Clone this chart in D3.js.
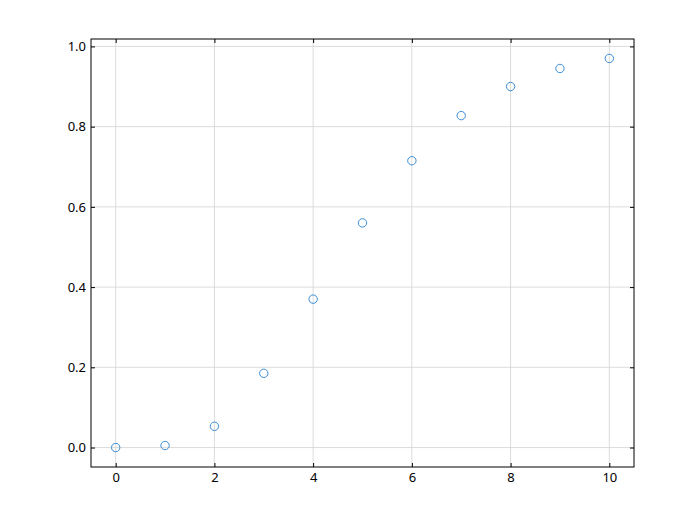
<!DOCTYPE html>
<html><head><meta charset="utf-8">
<script src="https://cdn.jsdelivr.net/npm/d3@7"></script>
<style>body{margin:0;background:#fff}</style>
</head><body>
<script>
const xValues = [0,1,2,3,4,5,6,7,8,9,10];
const yValues = [0,0.005,0.053,0.185,0.37,0.56,0.715,0.8275,0.9,0.945,0.97];
const xTicks = [0,2,4,6,8,10];
const yTicks = [0,0.2,0.4,0.6,0.8,1.0];

const W=700,H=524, L=91,R=634,T=39,B=467;
const svg=d3.select("body").append("svg").attr("width",W).attr("height",H);
const x=d3.scaleLinear().domain([-0.5,10.5]).range([L,R]);
const y=d3.scaleLinear().domain([-0.0485,1.0185]).range([B,T]);
const font="'Noto Sans', 'DejaVu Sans', sans-serif";

// grid
svg.append("g").selectAll("line").data(xTicks).join("line")
 .attr("x1",d=>x(d)).attr("x2",d=>x(d)).attr("y1",T).attr("y2",B)
 .attr("stroke","#d3d3d3").attr("stroke-width",0.8);
svg.append("g").selectAll("line").data(yTicks).join("line")
 .attr("y1",d=>y(d)).attr("y2",d=>y(d)).attr("x1",L).attr("x2",R)
 .attr("stroke","#d3d3d3").attr("stroke-width",0.8);

function styleAxis(g){
  g.select(".domain").remove();
  g.selectAll(".tick line").attr("stroke","#000").attr("stroke-width",1);
  g.selectAll(".tick text").attr("font-family",font).attr("font-size",13).attr("fill","#000");
}
svg.append("g").attr("transform",`translate(0,${B})`)
 .call(d3.axisBottom(x).tickValues(xTicks).tickSizeInner(-4).tickSizeOuter(0).tickPadding(6).tickFormat(d3.format("d")))
 .call(styleAxis);
svg.append("g").attr("transform",`translate(${L},0)`)
 .call(d3.axisLeft(y).tickValues(yTicks).tickSizeInner(-4).tickSizeOuter(0).tickPadding(5).tickFormat(d3.format(".1f")))
 .call(styleAxis);
svg.append("g").attr("transform",`translate(0,${T})`)
 .call(d3.axisTop(x).tickValues(xTicks).tickSizeInner(-4).tickSizeOuter(0).tickFormat(""))
 .call(styleAxis);
svg.append("g").attr("transform",`translate(${R},0)`)
 .call(d3.axisRight(y).tickValues(yTicks).tickSizeInner(-4).tickSizeOuter(0).tickFormat(""))
 .call(styleAxis);

svg.append("rect").attr("x",L).attr("y",T).attr("width",R-L).attr("height",B-T)
 .attr("fill","none").attr("stroke","#000").attr("stroke-width",1);

svg.append("g").selectAll("circle").data(xValues).join("circle")
 .attr("cx",(d,i)=>x(d)).attr("cy",(d,i)=>y(yValues[i])).attr("r",4.2)
 .attr("fill","none").attr("stroke","#3a8dd6").attr("stroke-width",1);
</script>
</body></html>
